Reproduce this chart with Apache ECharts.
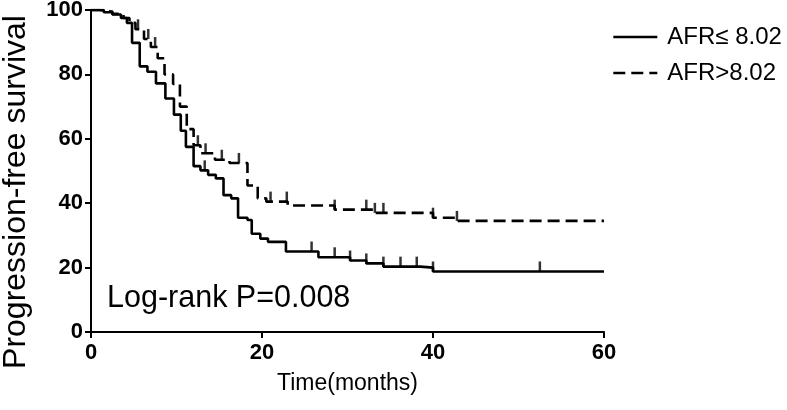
<!DOCTYPE html>
<html><head><meta charset="utf-8">
<script src="https://cdn.jsdelivr.net/npm/echarts@6/dist/echarts.min.js"></script>
<style>html,body{margin:0;padding:0;background:#fff}#c{width:787px;height:410px}</style>
</head><body><div id="c"></div>
<script>
// ---- data ----
const seriesNames = ['AFR\u2264 8.02', 'AFR>8.02'];
const xTicks = [0, 20, 40, 60];
const yTicks = [0, 20, 40, 60, 80, 100];
const lowTimes = [0, 1.5, 2.5, 3.5, 4.2, 4.8, 5.7, 6.6, 7.6, 8.7, 9.7, 10.5, 11.1, 12, 12.8, 13.7, 14.6, 15.5, 16.4, 17.2, 18.3, 18.8, 19.8, 20.7, 22.8, 26.6, 30.3, 32.2, 34.2, 38.5, 40, 60];
const lowSurv  = [100, 99.3, 98.6, 97.5, 96, 89.8, 82.5, 80.8, 77.2, 72.5, 67.5, 62.5, 57.5, 51.5, 50.2, 48.8, 47.7, 42.5, 41.5, 35.5, 34.8, 30.5, 29, 28, 25, 23.2, 22.2, 21.3, 20.3, 20, 18.8, 18.8];
const lowCensor = [13.3, 25.8, 28.5, 30.3, 32.2, 34.2, 36.2, 38.1, 40, 52.5];
const highTimes = [0, 1, 2.5, 3.8, 4.5, 5.2, 6.2, 7, 7.8, 8.6, 9.6, 10.4, 11.2, 12, 12.8, 14.5, 16.2, 18.3, 19.5, 20.5, 23, 28.5, 33, 40, 42.8, 60];
const highSurv  = [100, 99.5, 98.8, 97.5, 96, 94, 91, 88.5, 85, 80, 77, 70, 63, 58, 55.5, 53.5, 52.5, 45.5, 41.5, 40.5, 39.3, 38, 37, 35.5, 34.5, 34.5];
const highCensor = [5.5, 6.7, 7.5, 12.5, 13.4, 15.3, 17.3, 21, 22.9, 28.5, 32.2, 33.2, 34.2, 40, 42.8];
const annotation = 'Log-rank P=0.008';
const xName = 'Time(months)';
const yName = 'Progression-free survival';

// ---- build ----
function pairs(ts, ss){ return ts.map((t,i)=>[t, ss[i]]); }
function survAt(ts, ss, t){ let v = ss[0]; for (let i=0;i<ts.length;i++){ if (ts[i] <= t) v = ss[i]; } return v; }
function censorPts(cs, ts, ss){ return cs.map(t=>[t, survAt(ts, ss, t)]); }

const FONT = 'Liberation Sans, Arial, sans-serif';
const chart = echarts.init(document.getElementById('c'), null, {renderer:'canvas'});
const lineW = 2.6;
chart.setOption({
  animation: false,
  backgroundColor: '#fff',
  grid: {left: 91, right: 183, top: 10, bottom: 78, containLabel: false, outerBoundsMode: 'none'},
  legend: {
    show: true,
    data: [{name: seriesNames[0]}, {name: seriesNames[1]}],
    orient: 'vertical', left: 612, top: 25, padding: 0, itemWidth: 44, itemHeight: 14, itemGap: 12,
    itemStyle: {color: 'rgba(0,0,0,0)', borderWidth: 0, opacity: 0},
    lineStyle: {width: lineW},
    textStyle: {fontSize: 24, color: '#000', fontFamily: FONT, padding: [0, 0, 0, 5]}, selectedMode: false
  },
  xAxis: {
    type: 'value', min: 0, max: 60, interval: 20,
    name: xName, nameLocation: 'middle', nameGap: 40,
    nameTextStyle: {fontSize: 23, color: '#000', fontFamily: FONT},
    axisLine: {lineStyle: {color: '#000', width: 2}},
    axisTick: {show: true, length: 6, lineStyle: {color: '#000', width: 2}},
    axisLabel: {fontSize: 22, fontWeight: 'bold', color: '#000', fontFamily: FONT, margin: 10,
      formatter: v => xTicks.includes(v) ? String(v) : ''},
    splitLine: {show: false}
  },
  yAxis: {
    type: 'value', min: 0, max: 100, interval: 20,
    axisLine: {show: true, lineStyle: {color: '#000', width: 2}},
    axisTick: {show: true, length: 6, lineStyle: {color: '#000', width: 2}},
    axisLabel: {fontSize: 22, fontWeight: 'bold', color: '#000', fontFamily: FONT, margin: 8,
      formatter: v => yTicks.includes(v) ? String(v) : ''},
    splitLine: {show: false}
  },
  graphic: [{
    type: 'text', left: 107, top: 283,
    style: {text: annotation, fontSize: 30.5, fill: '#000', fontFamily: FONT}
  }, {
    type: 'text', x: 16, y: 192, rotation: Math.PI / 2,
    style: {text: yName, fontSize: 32, fill: '#000', fontFamily: FONT, align: 'center', verticalAlign: 'middle'}
  }],
  series: [
    {name: seriesNames[0], type: 'line', step: 'end', symbol: 'none', data: pairs(lowTimes, lowSurv),
     lineStyle: {color: '#000', width: lineW, type: 'solid'}, itemStyle: {color: '#000'}},
    {name: seriesNames[1], type: 'line', step: 'end', symbol: 'none', data: pairs(highTimes, highSurv),
     lineStyle: {color: '#000', width: lineW, type: [12, 6]}, itemStyle: {color: '#000'}},
    {name: 'c1', type: 'scatter', data: censorPts(lowCensor, lowTimes, lowSurv), symbol: 'rect',
     symbolSize: [2.5, 10], symbolOffset: [0, -5], itemStyle: {color: '#000'}},
    {name: 'c2', type: 'scatter', data: censorPts(highCensor, highTimes, highSurv), symbol: 'rect',
     symbolSize: [2.5, 10], symbolOffset: [0, -5], itemStyle: {color: '#000'}}
  ]
});
</script></body></html>
